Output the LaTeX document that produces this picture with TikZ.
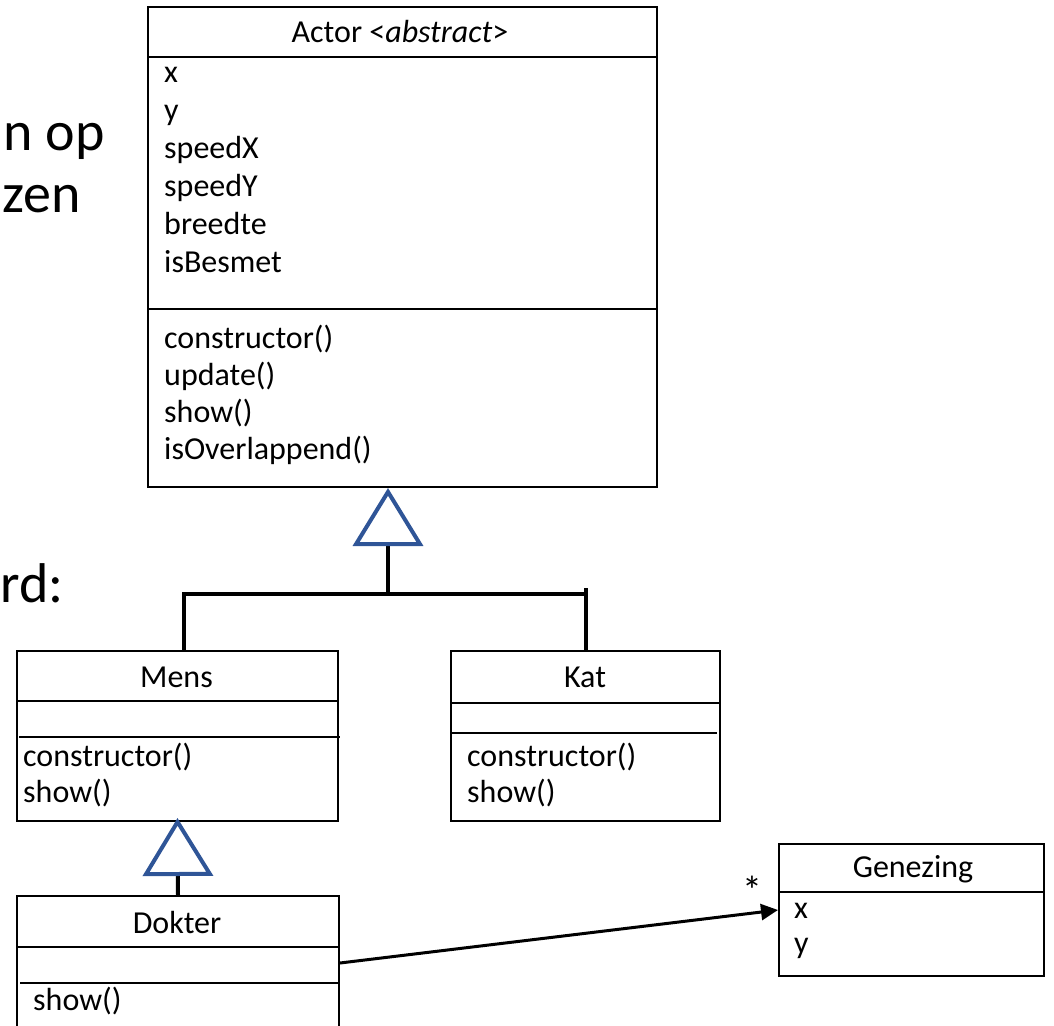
\documentclass[tikz,border=0pt]{standalone}
\usepackage{fontspec}
\setmainfont{Carlito}
\usetikzlibrary{arrows.meta}
\definecolor{triblue}{RGB}{47,85,151}
\newcommand\umlfont{\fontsize{32}{37}\selectfont}

\begin{document}
\begin{tikzpicture}[x=1pt,y=-1pt]
  \tikzset{
    classbox/.style={draw, line width=2pt, anchor=north west, inner sep=0pt},
    classname/.style={anchor=base, inner sep=0pt, font=\umlfont},
    member/.style={anchor=base west, inner sep=0pt, font=\umlfont},
    sepline/.style={line width=2pt},
    bus/.style={line width=4pt},
    genline/.style={line width=4pt, -{Triangle[open, color=triblue, line width'=4pt, length=58pt, width=70pt]}},
    assoc/.style={line width=3pt, -{Triangle[length=17pt, width=16pt]}},
    slidetext/.style={anchor=base east, inner sep=0pt, font=\fontsize{56}{63}\selectfont}
  }
  \useasboundingbox (0,0) rectangle (1054,1025);

  % slide text cut off at the left
  \node[slidetext] (txtop) at (105,150) {n op};
  \node[slidetext] (txtzen) at (81,212) {zen};
  \node[slidetext] (txtrd) at (64,602) {rd:};

  % Actor
  \node[classbox, minimum width=509pt, minimum height=480pt] (actor) at (147,6) {};
  \draw[sepline] (actor.north west) ++(0,51) -- ++(509,0);
  \draw[sepline] (actor.north west) ++(0,303) -- ++(509,0);
  \node[classname] (actor-name) at (400,43) {Actor <\textit{abstract}>};
  \foreach \txt [count=\i] in {x, y, speedX, speedY, breedte, isBesmet}
    \node[member] (actor-attr\i) at (164,44+38*\i) {\txt};
  \foreach \txt [count=\i] in {constructor(), update(), show(), isOverlappend()}
    \node[member] (actor-op\i) at (164,310.7+37.3*\i) {\txt};

  % Mens
  \node[classbox, minimum width=321pt, minimum height=170pt] (mens) at (16,650) {};
  \draw[sepline] (mens.north west) ++(0,51) -- ++(321,0);
  \draw[sepline] (mens.north west) ++(3,87) -- ++(321,0);
  \node[classname] (mens-name) at (176.5,687) {Mens};
  \node[member] (mens-op1) at (23,766) {constructor()};
  \node[member] (mens-op2) at (23,802) {show()};

  % Kat
  \node[classbox, minimum width=269pt, minimum height=170pt] (kat) at (450,650) {};
  \draw[sepline] (kat.north west) ++(0,53) -- ++(269,0);
  \draw[sepline] (kat.north west) ++(0,83) -- ++(267,0);
  \node[classname] (kat-name) at (585,687) {Kat};
  \node[member] (kat-op1) at (467,766) {constructor()};
  \node[member] (kat-op2) at (467,802) {show()};

  % Dokter
  \node[classbox, minimum width=322pt, minimum height=134pt] (dokter) at (16,895) {};
  \draw[sepline] (dokter.north west) ++(0,52) -- ++(322,0);
  \draw[sepline] (dokter.north west) ++(4,88) -- ++(320,0);
  \node[classname] (dokter-name) at (177,933) {Dokter};
  \node[member] (dokter-op1) at (33,1010) {show()};

  % Genezing
  \node[classbox, minimum width=265pt, minimum height=132pt] (genezing) at (778,843) {};
  \draw[sepline] (genezing.north west) ++(0,49) -- ++(265,0);
  \node[classname] (genezing-name) at (913,877) {Genezing};
  \node[member] (genezing-attr1) at (794,918) {x};
  \node[member] (genezing-attr2) at (794,953) {y};

  % inheritance
  \coordinate (bar) at (388,594);
  \coordinate (mensjoin) at (184,650);
  \coordinate (katjoin) at (586,650);
  \draw[bus] (mensjoin) |- (bar) -- (bar -| katjoin);
  \draw[bus] (katjoin) -- ++(0,-62);
  \draw[genline] (bar) -- (bar |- actor.south);
  \draw[genline] (dokter.north) -- ([yshift=4pt]mens.south);

  % association
  \draw[assoc] (dokter.east) -- (genezing.west);
  \node[classname, font=\fontsize{40}{40}\selectfont] (mult) at (752,904) {*};
\end{tikzpicture}
\end{document}
